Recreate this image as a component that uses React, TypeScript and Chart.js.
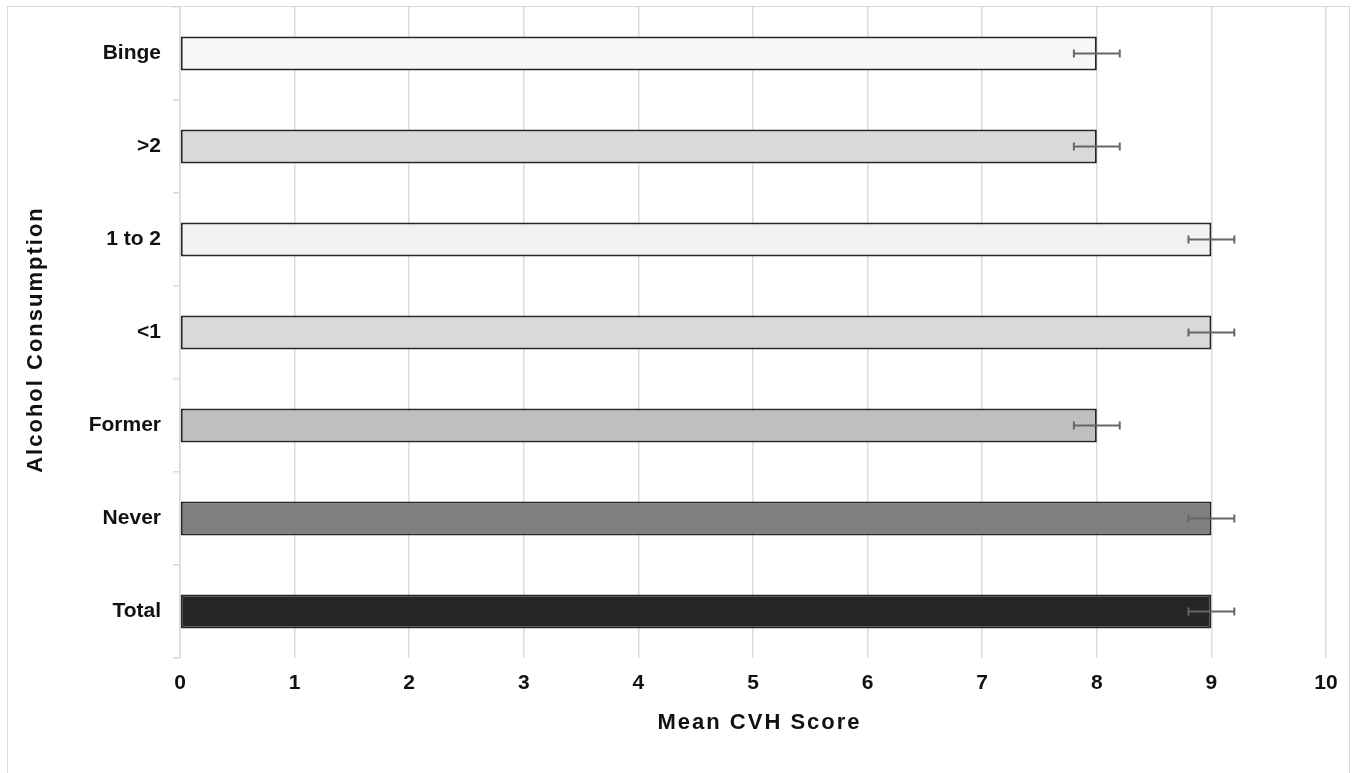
import React, { useEffect, useRef } from "react";
import { Chart, registerables } from "chart.js";

Chart.register(...registerables);

const categories = ["Binge", ">2", "1 to 2", "<1", "Former", "Never", "Total"];
const meanScores = [8, 8, 9, 9, 8, 9, 9];
const errorMargins = [0.2, 0.2, 0.2, 0.2, 0.2, 0.2, 0.2];
const barColors = ["#f7f7f7", "#d9d9d9", "#f2f2f2", "#d9d9d9", "#bfbfbf", "#7f7f7f", "#262626"];
const xTitle = "Mean CVH Score";
const yTitle = "Alcohol Consumption";

const FONT = '"Liberation Sans", Arial, Helvetica, sans-serif';

const framePlugin = {
  id: "frame",
  beforeDraw(chart: any) {
    const { ctx, width, height } = chart;
    ctx.save();
    ctx.fillStyle = "#ffffff";
    ctx.fillRect(0, 0, width, height);
    ctx.strokeStyle = "#d9d9d9";
    ctx.lineWidth = 1;
    ctx.strokeRect(7.5, 6.5, 1342, height + 20);
    ctx.restore();
  },
};

const errorBarPlugin = {
  id: "errorBars",
  afterDatasetsDraw(chart: any) {
    const { ctx } = chart;
    const xScale = chart.scales.x;
    const meta = chart.getDatasetMeta(0);
    ctx.save();
    ctx.strokeStyle = "#666666";
    ctx.lineWidth = 2;
    meta.data.forEach((bar: any, i: number) => {
      const v = meanScores[i];
      const e = errorMargins[i];
      const x1 = xScale.getPixelForValue(v - e);
      const x2 = xScale.getPixelForValue(v + e);
      const y = bar.y;
      const cap = 4;
      ctx.beginPath();
      ctx.moveTo(x1, y);
      ctx.lineTo(x2, y);
      ctx.moveTo(x1, y - cap);
      ctx.lineTo(x1, y + cap);
      ctx.moveTo(x2, y - cap);
      ctx.lineTo(x2, y + cap);
      ctx.stroke();
    });
    ctx.restore();
  },
};

const titlePlugin = {
  id: "axisTitles",
  afterDraw(chart: any) {
    const { ctx } = chart;
    ctx.save();
    ctx.fillStyle = "#111111";
    ctx.font = `bold 22px ${FONT}`;
    try {
      (ctx as any).letterSpacing = "2px";
    } catch (e) {}
    ctx.textAlign = "center";
    ctx.textBaseline = "alphabetic";
    ctx.fillText(xTitle, 759.5, 729);
    ctx.translate(42, 339.5);
    ctx.rotate(-Math.PI / 2);
    ctx.fillText(yTitle, 0, 0);
    ctx.restore();
  },
};

export default function App() {
  const canvasRef = useRef<HTMLCanvasElement | null>(null);

  useEffect(() => {
    if (!canvasRef.current) return;
    const chart = new Chart(canvasRef.current, {
      type: "bar",
      data: {
        labels: categories,
        datasets: [
          {
            data: meanScores,
            backgroundColor: barColors,
            borderColor: "#262626",
            borderWidth: 2,
            borderSkipped: false,
            barPercentage: 0.365,
            categoryPercentage: 1,
          },
        ],
      },
      options: {
        indexAxis: "y",
        responsive: false,
        animation: false,
        layout: { padding: { top: 7, right: 31, left: 0, bottom: 0 } },
        plugins: {
          legend: { display: false },
          tooltip: { enabled: false },
          title: { display: false },
        },
        scales: {
          x: {
            min: 0,
            max: 10,
            ticks: {
              stepSize: 1,
              color: "#111111",
              font: { family: FONT, size: 21, weight: "bold" },
              padding: 13,
            },
            grid: {
              color: "#dcdcdc",
              lineWidth: 1.5,
              drawTicks: false,
            },
            border: { display: false },
            afterFit(scale: any) {
              scale.height = 115;
              scale.paddingLeft = 0;
              scale.paddingRight = 0;
            },
          },
          y: {
            ticks: {
              color: "#111111",
              font: { family: FONT, size: 21, weight: "bold" },
              padding: 12,
            },
            grid: {
              color: "#d9d9d9",
              lineWidth: 1.5,
              drawOnChartArea: false,
              drawTicks: true,
              tickLength: 7,
              offset: true,
            },
            border: { display: true, color: "#d9d9d9", width: 1.5 },
            afterFit(scale: any) {
              scale.width = 180;
              scale.paddingTop = 0;
              scale.paddingBottom = 0;
            },
          },
        },
      },
      plugins: [framePlugin, errorBarPlugin, titlePlugin],
    });
    return () => chart.destroy();
  }, []);

  return (
    <div style={{ position: "fixed", left: 0, top: 0, width: 1357, height: 773 }}>
      <canvas ref={canvasRef} width={1357} height={773} style={{ display: "block" }} />
    </div>
  );
}
